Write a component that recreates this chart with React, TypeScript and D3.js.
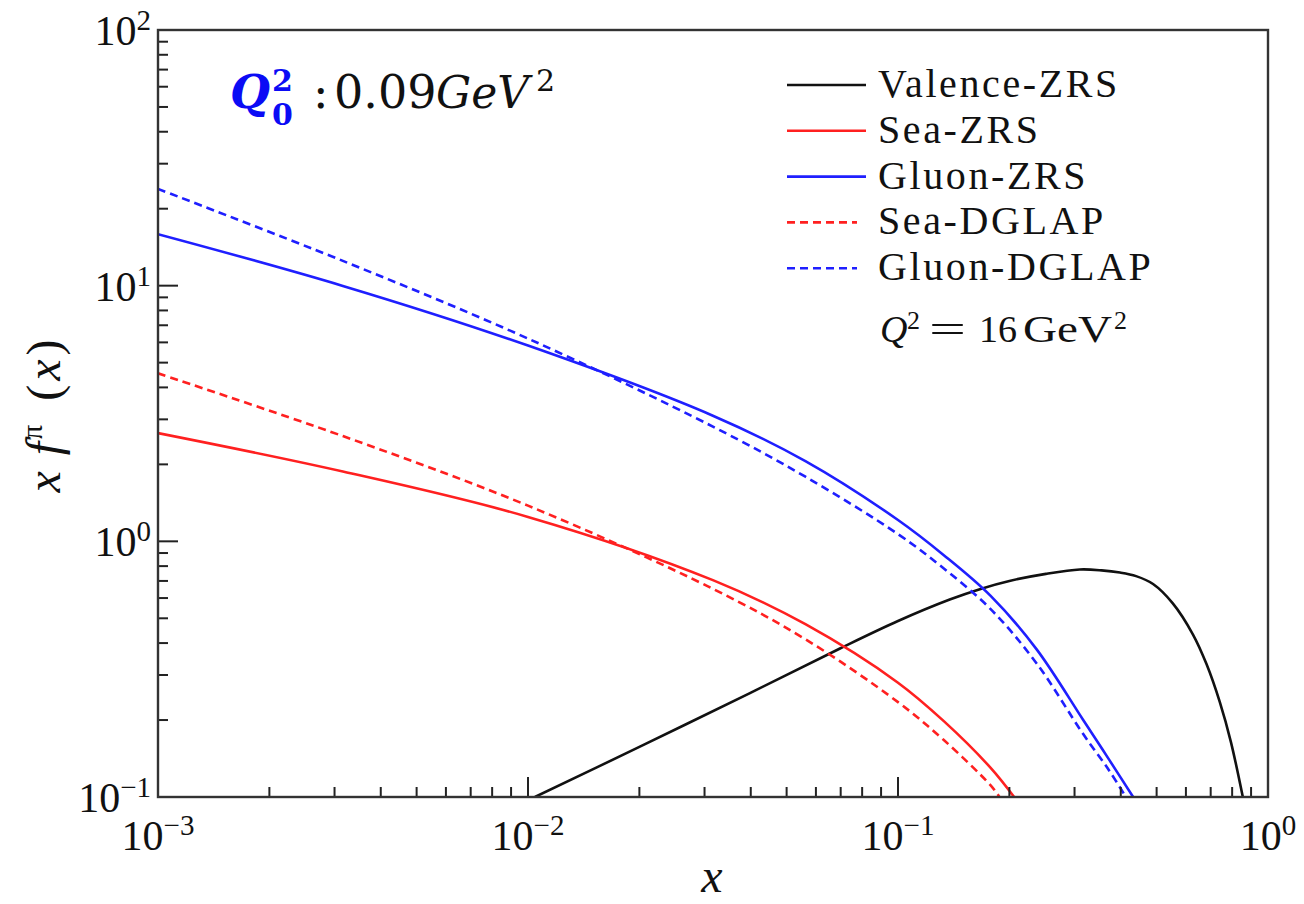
import React from 'react';
import * as d3 from 'd3';

// values (x, x f(x))
const valenceX = [0.01044, 0.02, 0.0398, 0.0697, 0.1, 0.138, 0.168, 0.2, 0.251, 0.31, 0.355, 0.398, 0.44, 0.489, 0.553, 0.627, 0.682, 0.741, 0.794, 0.855];
const valenceY = [0.1, 0.157, 0.255, 0.381, 0.488, 0.592, 0.653, 0.7, 0.746, 0.776, 0.77, 0.755, 0.731, 0.681, 0.572, 0.432, 0.331, 0.235, 0.164, 0.1];

const seaZrsX = [0.001, 0.00316, 0.01, 0.0316, 0.0562, 0.1, 0.133, 0.178, 0.206];
const seaZrsY = [2.65, 1.875, 1.246, 0.705, 0.474, 0.28, 0.198, 0.13, 0.1];

const seaDglapX = [0.001, 0.00316, 0.01, 0.0316, 0.0562, 0.1, 0.133, 0.178, 0.188];
const seaDglapY = [4.54, 2.58, 1.379, 0.652, 0.414, 0.235, 0.167, 0.111, 0.1];

const gluonZrsX = [0.001, 0.00316, 0.01, 0.0316, 0.0562, 0.1, 0.133, 0.178, 0.237, 0.316, 0.372, 0.432];
const gluonZrsY = [15.9, 9.98, 5.83, 3.1, 2.06, 1.212, 0.883, 0.612, 0.378, 0.201, 0.14, 0.1];

const gluonDglapX = [0.001, 0.00316, 0.01, 0.0316, 0.0562, 0.1, 0.133, 0.178, 0.237, 0.316, 0.372, 0.413];
const gluonDglapY = [23.9, 12.5, 6.21, 2.81, 1.79, 1.067, 0.783, 0.543, 0.333, 0.177, 0.127, 0.1];

const seriesNames = ['Valence-ZRS', 'Sea-ZRS', 'Gluon-ZRS', 'Sea-DGLAP', 'Gluon-DGLAP'];
const xTickExps = [-3, -2, -1, 0];
const yTickExps = [-1, 0, 1, 2];

const W = 1304;
const H = 904;
const left = 158;
const right = 1268;
const top = 30;
const bottom = 797;

const RED = '#ff2020';
const BLUE = '#1f1fff';
const BLACK = '#111';
const serif = '"Liberation Serif", "Times New Roman", serif';
const math = '"DejaVu Serif", serif';

const Sup = ({ x, y, exp, anchor }: any) => (
  <text x={x} y={y} textAnchor={anchor} fontFamily={serif} fontSize={42} fill="#111">
    <tspan>10</tspan>
    <tspan dy={-15} fontSize={29}>{exp < 0 ? '\u2212' + Math.abs(exp) : String(exp)}</tspan>
  </text>
);

export default function App() {
  const x = d3.scaleLog().domain([1e-3, 1]).range([left, right]);
  const y = d3.scaleLog().domain([0.1, 100]).range([bottom, top]);

  const line = d3
    .line<[number, number]>()
    .x((d) => x(d[0]))
    .y((d) => y(d[1]))
    .curve(d3.curveCatmullRom.alpha(0.5));

  const zip = (xs: number[], ys: number[]) => xs.map((v, i) => [v, ys[i]] as [number, number]);

  const series = [
    { name: seriesNames[0], pts: zip(valenceX, valenceY), color: BLACK, dash: null },
    { name: seriesNames[1], pts: zip(seaZrsX, seaZrsY), color: RED, dash: null },
    { name: seriesNames[2], pts: zip(gluonZrsX, gluonZrsY), color: BLUE, dash: null },
    { name: seriesNames[3], pts: zip(seaDglapX, seaDglapY), color: RED, dash: '8,5' },
    { name: seriesNames[4], pts: zip(gluonDglapX, gluonDglapY), color: BLUE, dash: '8,5' },
  ];

  // minor + major ticks on log axes
  const xTicks: { v: number; major: boolean }[] = [];
  for (let e = -3; e < 0; e++) {
    for (let m = 1; m < 10; m++) xTicks.push({ v: m * Math.pow(10, e), major: m === 1 });
  }
  const yTicks: { v: number; major: boolean }[] = [];
  for (let e = -1; e < 2; e++) {
    for (let m = 1; m < 10; m++) yTicks.push({ v: m * Math.pow(10, e), major: m === 1 });
  }

  const legendX1 = 787;
  const legendTextX = 878;
  const legendY0 = 85;
  const legendStep = 45.8;

  return (
    <svg width={W} height={H} style={{ position: 'absolute', left: 0, top: 0, background: '#fff' }}>
      <defs>
        <clipPath id="plot">
          <rect x={left} y={top} width={right - left} height={bottom - top} />
        </clipPath>
      </defs>

      <g clipPath="url(#plot)">
        {series.map((s) => (
          <path
            key={s.name}
            d={line(s.pts) || ''}
            fill="none"
            stroke={s.color}
            strokeWidth={2.6}
            strokeDasharray={s.dash || undefined}
          />
        ))}
      </g>

      {/* ticks, inward, left and bottom only */}
      {xTicks.map((t, i) => (
        <line key={'xt' + i} x1={x(t.v)} x2={x(t.v)} y1={bottom} y2={bottom - (t.major ? 20 : 10)} stroke="#222" strokeWidth={2} />
      ))}
      {yTicks.map((t, i) => (
        <line key={'yt' + i} x1={left} x2={left + (t.major ? 20 : 10)} y1={y(t.v)} y2={y(t.v)} stroke="#222" strokeWidth={2} />
      ))}

      <rect x={left} y={top} width={right - left} height={bottom - top} fill="none" stroke="#333" strokeWidth={2.4} />

      {xTickExps.map((e) => (
        <Sup key={'xl' + e} x={x(Math.pow(10, e))} y={850} exp={e} anchor="middle" />
      ))}
      {yTickExps.map((e) => (
        <Sup key={'yl' + e} x={151} y={y(Math.pow(10, e)) + 15} exp={e} anchor="end" />
      ))}

      {/* axis titles */}
      <text x={712} y={892} textAnchor="middle" fontFamily={serif} fontStyle="italic" fontSize={48} fill="#111">x</text>
      <text transform="translate(60,416) rotate(-90)" textAnchor="middle" fontFamily={serif} fontSize={48} fill="#111">
        <tspan fontStyle="italic">x</tspan>
        <tspan fontStyle="italic" dx={16}>f</tspan>
        <tspan dy={-18} dx={2} fontSize={30}>π</tspan>
        <tspan dy={18} dx={24}>(</tspan>
        <tspan fontStyle="italic" dx={4}>x</tspan>
        <tspan dx={4}>)</tspan>
      </text>

      {/* legend */}
      {series.map((s, i) => {
        const ly = legendY0 + i * legendStep;
        return (
          <g key={'lg' + s.name}>
            <line x1={legendX1} x2={s.dash ? 857 : 866} y1={ly} y2={ly} stroke={s.color} strokeWidth={2.6} strokeDasharray={s.dash || undefined} />
            <text x={legendTextX} y={ly + 12} fontFamily={serif} fontSize={40} letterSpacing={2.6} fill="#111">{s.name}</text>
          </g>
        );
      })}
      <g fontFamily={serif} fontSize={38} fill="#111">
        <text x={880} y={342} fontStyle="italic">Q</text>
        <text x={907} y={329} fontSize={26}>2</text>
        <text x={929} y={342} textLength={37} lengthAdjust="spacingAndGlyphs">=</text>
        <text x={979} y={342}>16</text>
        <text x={1023} y={342} textLength={89} lengthAdjust="spacingAndGlyphs">GeV</text>
        <text x={1114} y={329} fontSize={26}>2</text>
      </g>

      {/* initial scale annotation */}
      <text x={230} y={108} fontFamily={math} fontSize={46} fontWeight="bold" fontStyle="italic" fill="#0b0bf5">Q</text>
      <text x={272} y={91} fontFamily={math} fontSize={30} fontWeight="bold" fill="#0b0bf5">2</text>
      <text x={272} y={125} fontFamily={math} fontSize={30} fontWeight="bold" fill="#0b0bf5">0</text>
      <text x={313} y={108} fontFamily={math} fontSize={46} fill="#111">:</text>
      <text x={334} y={108} fontFamily={math} fontSize={46} fill="#111">0.09</text>
      <text x={436} y={108} fontFamily={math} fontSize={44} fontStyle="italic" fill="#111">GeV</text>
      <text x={536} y={91} fontFamily={math} fontSize={30} fill="#111">2</text>
    </svg>
  );
}
